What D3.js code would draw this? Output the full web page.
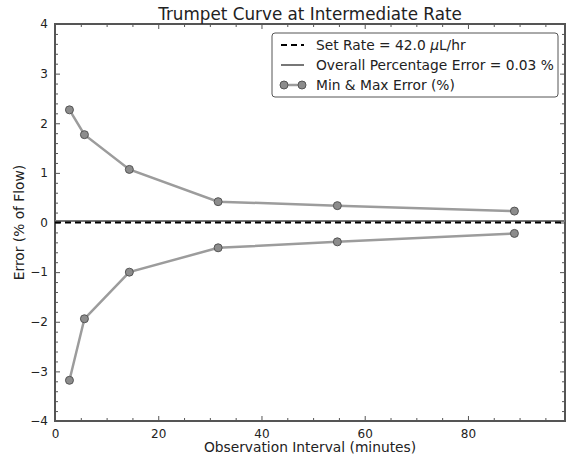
<!DOCTYPE html>
<html>
<head>
<meta charset="utf-8">
<script src="https://cdn.jsdelivr.net/npm/d3@7"></script>
<style>
  body { margin: 0; background: #fff; }
  text { font-family: "DejaVu Sans", sans-serif; fill: #222; }
</style>
</head>
<body>
<script>
// observation windows (minutes) and the max / min error in each
var intervals = [2.8, 5.7, 14.4, 31.6, 54.7, 89.0];
var maxError = [2.27, 1.77, 1.07, 0.42, 0.34, 0.23];
var minError = [-3.18, -1.94, -1.0, -0.51, -0.39, -0.22];
var setRate = 0;
var overallError = 0.03;
var xTicks = [0, 20, 40, 60, 80];
var yTicks = [-4, -3, -2, -1, 0, 1, 2, 3, 4];

var margin = { top: 24, right: 1, bottom: 35, left: 55 },
    width = 566 - margin.left - margin.right,
    height = 456 - margin.top - margin.bottom;

var svg = d3.select("body").append("svg")
    .attr("width", 566)
    .attr("height", 456);

var g = svg.append("g")
    .attr("transform", "translate(" + margin.left + "," + margin.top + ")");

var x = d3.scaleLinear().domain([0, 98.8]).range([0, width]);
var y = d3.scaleLinear().domain([-4, 4]).range([height, 0]);

var frameColor = "#555";

// ticks on all four sides, pointing in
function ticks(axis, values, size) {
    return axis.tickValues(values).tickSizeInner(-size).tickSizeOuter(0);
}
var xMinor = d3.range(0, 99, 5).filter(v => v % 20 != 0);
var yMinor = d3.range(-40, 41, 2).map(v => v / 10).filter(v => v % 1 != 0);

g.append("g").attr("transform", "translate(0," + height + ")")
    .call(ticks(d3.axisBottom(x), xTicks, 5).tickFormat(d3.format("d")).tickPadding(8));
g.append("g").attr("transform", "translate(0," + height + ")")
    .call(ticks(d3.axisBottom(x), xMinor, 3).tickFormat(""));
g.append("g").call(ticks(d3.axisTop(x), xTicks, 5).tickFormat(""));
g.append("g").call(ticks(d3.axisTop(x), xMinor, 3).tickFormat(""));
g.append("g")
    .call(ticks(d3.axisLeft(y), yTicks, 5).tickFormat(d => d < 0 ? "\u2212" + (-d) : d).tickPadding(7));
g.append("g").call(ticks(d3.axisLeft(y), yMinor, 3).tickFormat(""));
g.append("g").attr("transform", "translate(" + width + ",0)")
    .call(ticks(d3.axisRight(y), yTicks, 5).tickFormat(""));
g.append("g").attr("transform", "translate(" + width + ",0)")
    .call(ticks(d3.axisRight(y), yMinor, 3).tickFormat(""));

g.selectAll(".domain").remove();
g.selectAll(".tick line").attr("stroke", frameColor);
g.selectAll(".tick text").attr("font-size", "12px").attr("fill", "#222");

// frame
g.append("rect")
    .attr("width", width).attr("height", height)
    .attr("fill", "none").attr("stroke", frameColor).attr("stroke-width", 2);

// overall percentage error (solid) and set rate (dashed)
g.append("line")
    .attr("x1", x(0)).attr("x2", x(98.8))
    .attr("y1", y(overallError)).attr("y2", y(overallError))
    .attr("stroke", "#777").attr("stroke-width", 2);
g.append("line")
    .attr("x1", x(0)).attr("x2", x(98.8))
    .attr("y1", y(setRate)).attr("y2", y(setRate))
    .attr("stroke", "#000").attr("stroke-width", 2)
    .attr("stroke-dasharray", "6,4");

// min and max error curves
var line = d3.line().x(d => x(d[0])).y(d => y(d[1]));
[maxError, minError].forEach(function (series) {
    var pts = intervals.map((v, i) => [v, series[i]]);
    g.append("path")
        .attr("d", line(pts))
        .attr("fill", "none")
        .attr("stroke", "#9c9c9c")
        .attr("stroke-width", 2.5);
    g.selectAll(null).data(pts).enter().append("circle")
        .attr("cx", d => x(d[0]))
        .attr("cy", d => y(d[1]))
        .attr("r", 4)
        .attr("fill", "#8c8c8c")
        .attr("stroke", "#555")
        .attr("stroke-width", 1);
});

// title and axis labels
svg.append("text")
    .attr("x", margin.left + width / 2).attr("y", 20)
    .attr("text-anchor", "middle").attr("font-size", "16.8px")
    .text("Trumpet Curve at Intermediate Rate");
svg.append("text")
    .attr("x", margin.left + width / 2).attr("y", 452)
    .attr("text-anchor", "middle").attr("font-size", "13.8px")
    .text("Observation Interval (minutes)");
svg.append("text")
    .attr("transform", "translate(24," + (margin.top + height / 2) + ") rotate(-90)")
    .attr("text-anchor", "middle").attr("font-size", "13.8px")
    .text("Error (% of Flow)");

// legend
var legend = svg.append("g").attr("transform", "translate(272,33)");
legend.append("rect")
    .attr("width", 286).attr("height", 64).attr("rx", 3)
    .attr("fill", "#fff").attr("stroke", "#555").attr("stroke-width", 1);

legend.append("line")
    .attr("x1", 9).attr("x2", 32).attr("y1", 12).attr("y2", 12)
    .attr("stroke", "#000").attr("stroke-width", 2).attr("stroke-dasharray", "6,4");
legend.append("line")
    .attr("x1", 9).attr("x2", 32).attr("y1", 32).attr("y2", 32)
    .attr("stroke", "#777").attr("stroke-width", 2);
legend.append("line")
    .attr("x1", 12).attr("x2", 30).attr("y1", 52).attr("y2", 52)
    .attr("stroke", "#9c9c9c").attr("stroke-width", 2.5);
legend.selectAll(null).data([12, 30]).enter().append("circle")
    .attr("cx", d => d).attr("cy", 52).attr("r", 4)
    .attr("fill", "#8c8c8c").attr("stroke", "#555");

var t1 = legend.append("text").attr("x", 44).attr("y", 17).attr("font-size", "13.8px");
t1.append("tspan").text("Set Rate = 42.0 ");
t1.append("tspan").attr("font-style", "italic").text("\u03bc");
t1.append("tspan").text("L/hr");
legend.append("text").attr("x", 44).attr("y", 37).attr("font-size", "13.8px")
    .text("Overall Percentage Error = 0.03 %");
legend.append("text").attr("x", 44).attr("y", 57).attr("font-size", "13.8px")
    .text("Min & Max Error (%)");
</script>
</body>
</html>
